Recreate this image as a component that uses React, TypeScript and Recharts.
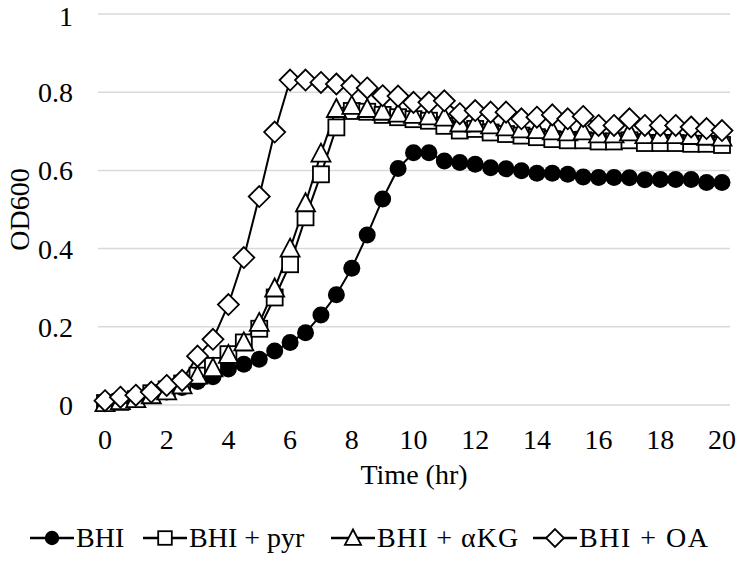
import React from 'react'
import { LineChart, Line, XAxis, YAxis, CartesianGrid } from 'recharts'

// sampling times (hr)
const hours = [
  0, 0.5, 1, 1.5, 2, 2.5, 3, 3.5, 4, 4.5, 5, 5.5, 6, 6.5, 7, 7.5, 8, 8.5, 9, 9.5, 10,
  10.5, 11, 11.5, 12, 12.5, 13, 13.5, 14, 14.5, 15, 15.5, 16, 16.5, 17, 17.5, 18, 18.5,
  19, 19.5, 20
]

const bhi = [
  0.01, 0.012, 0.018, 0.025, 0.033, 0.045, 0.06, 0.072, 0.092, 0.104, 0.117, 0.138, 0.16,
  0.185, 0.23, 0.282, 0.35, 0.435, 0.527, 0.605, 0.645, 0.645, 0.624, 0.62, 0.616, 0.607,
  0.604, 0.599, 0.593, 0.593, 0.59, 0.583, 0.582, 0.582, 0.581, 0.576, 0.577, 0.577, 0.577,
  0.569, 0.569
]

const bhiPyr = [
  0.005, 0.008, 0.015, 0.03, 0.04, 0.055, 0.075, 0.1, 0.13, 0.16, 0.195, 0.275, 0.36, 0.48,
  0.59, 0.71, 0.752, 0.75, 0.742, 0.736, 0.731, 0.727, 0.714, 0.702, 0.706, 0.697, 0.693,
  0.689, 0.685, 0.68, 0.677, 0.677, 0.674, 0.674, 0.677, 0.67, 0.67, 0.67, 0.668, 0.668,
  0.665
]

const bhiAkg = [
  0.005, 0.01, 0.015, 0.025, 0.035, 0.05, 0.075, 0.094, 0.128, 0.16, 0.21, 0.298, 0.4,
  0.516, 0.643, 0.757, 0.765, 0.757, 0.75, 0.745, 0.742, 0.738, 0.735, 0.72, 0.72, 0.715,
  0.71, 0.705, 0.703, 0.7, 0.697, 0.7, 0.692, 0.692, 0.697, 0.69, 0.69, 0.69, 0.688, 0.686,
  0.684
]

const bhiOa = [
  0.011, 0.02, 0.025, 0.033, 0.05, 0.063, 0.125, 0.168, 0.257, 0.377, 0.533, 0.698, 0.831,
  0.831, 0.825, 0.821, 0.817, 0.811, 0.791, 0.79, 0.774, 0.774, 0.778, 0.745, 0.753, 0.749,
  0.749, 0.732, 0.736, 0.742, 0.732, 0.738, 0.715, 0.715, 0.732, 0.715, 0.715, 0.715, 0.711,
  0.707, 0.702
]

const xTicks = [0, 2, 4, 6, 8, 10, 12, 14, 16, 18, 20]
const yTicks = [0, 0.2, 0.4, 0.6, 0.8, 1]

const series = [
  { key: 'bhi', name: 'BHI', shape: 'circle' },
  { key: 'pyr', name: 'BHI + pyr', shape: 'square' },
  { key: 'akg', name: 'BHI + αKG', shape: 'triangle' },
  { key: 'oa', name: 'BHI + OA', shape: 'diamond' }
]

const data = hours.map((t, i) => ({
  t,
  bhi: bhi[i],
  pyr: bhiPyr[i],
  akg: bhiAkg[i],
  oa: bhiOa[i]
}))

const Marker = ({ shape, cx, cy, s = 1 }: { shape: string; cx: number; cy: number; s?: number }) => {
  const sw = 1.8
  if (shape === 'circle') return <circle cx={cx} cy={cy} r={8.5 * s} fill="#000" />
  if (shape === 'square')
    return (
      <rect
        x={cx - 8 * s}
        y={cy - 8 * s}
        width={16 * s}
        height={16 * s}
        fill="#fff"
        stroke="#000"
        strokeWidth={sw}
      />
    )
  if (shape === 'triangle')
    return (
      <polygon
        points={`${cx},${cy - 10 * s} ${cx + 9.5 * s},${cy + 8 * s} ${cx - 9.5 * s},${cy + 8 * s}`}
        fill="#fff"
        stroke="#000"
        strokeWidth={sw}
      />
    )
  return (
    <polygon
      points={`${cx},${cy - 10.5 * s} ${cx + 10.5 * s},${cy} ${cx},${cy + 10.5 * s} ${cx - 10.5 * s},${cy}`}
      fill="#fff"
      stroke="#000"
      strokeWidth={sw}
    />
  )
}

// legend layout (px from left)
const legendLeft = [30, 143, 331, 533]
const legendSpacing = [0, 0, 1, 1.5]

const css = `
body { margin: 0; }
.chart, .chart text, .chart span { font-family: "Liberation Serif", serif !important; }
`

export default function App() {
  return (
    <div className="chart" style={{ position: 'relative', width: 739, height: 562 }}>
      <style>{css}</style>
      <LineChart
        width={739}
        height={562}
        data={data}
        margin={{ top: 14, right: 9, bottom: 117, left: 0 }}
      >
        <CartesianGrid vertical={false} stroke="#d9d9d9" strokeWidth={1.5} />
        <XAxis
          type="number"
          dataKey="t"
          domain={[0, 20]}
          ticks={xTicks}
          padding={{ left: 7, right: 8 }}
          axisLine={false}
          tickLine={false}
          tickSize={6}
          tickMargin={18}
          height={40}
          tick={{ fontSize: 28, fill: '#000' }}
          label={{
            value: 'Time (hr)',
            position: 'bottom',
            offset: 19,
            fontSize: 28,
            fill: '#000'
          }}
        />
        <YAxis
          domain={[0, 1]}
          ticks={yTicks}
          width={98}
          axisLine={false}
          tickLine={false}
          tickSize={6}
          tickMargin={19}
          tick={{ fontSize: 28, fill: '#000' }}
          label={{
            content: (props: any) => {
              const vb = props.viewBox
              const x = vb.x + 29
              const y = vb.y + vb.height / 2
              return (
                <text
                  x={x}
                  y={y}
                  transform={`rotate(-90, ${x}, ${y})`}
                  textAnchor="middle"
                  fontSize={28}
                  fill="#000"
                >
                  OD600
                </text>
              )
            }
          }}
        />
        {series.map((s) => (
          <Line
            key={s.key}
            dataKey={s.key}
            name={s.name}
            type="linear"
            stroke="#000"
            strokeWidth={2}
            isAnimationActive={false}
            activeDot={false}
            dot={(p: any) => (
              <Marker key={`${s.key}-${p.index}`} shape={s.shape} cx={p.cx} cy={p.cy} />
            )}
          />
        ))}
      </LineChart>
      {series.map((s, i) => (
        <div
          key={s.key}
          style={{
            position: 'absolute',
            left: legendLeft[i],
            top: 522,
            display: 'flex',
            alignItems: 'center',
            height: 32,
            fontSize: 28,
            color: '#000',
            whiteSpace: 'nowrap'
          }}
        >
          <svg width={44} height={32}>
            <line x1={0} y1={16} x2={44} y2={16} stroke="#000" strokeWidth={2.5} />
            <Marker shape={s.shape} cx={22} cy={16} s={0.85} />
          </svg>
          <span style={{ marginLeft: 2, lineHeight: '32px', letterSpacing: legendSpacing[i] }}>
            {s.name}
          </span>
        </div>
      ))}
    </div>
  )
}
